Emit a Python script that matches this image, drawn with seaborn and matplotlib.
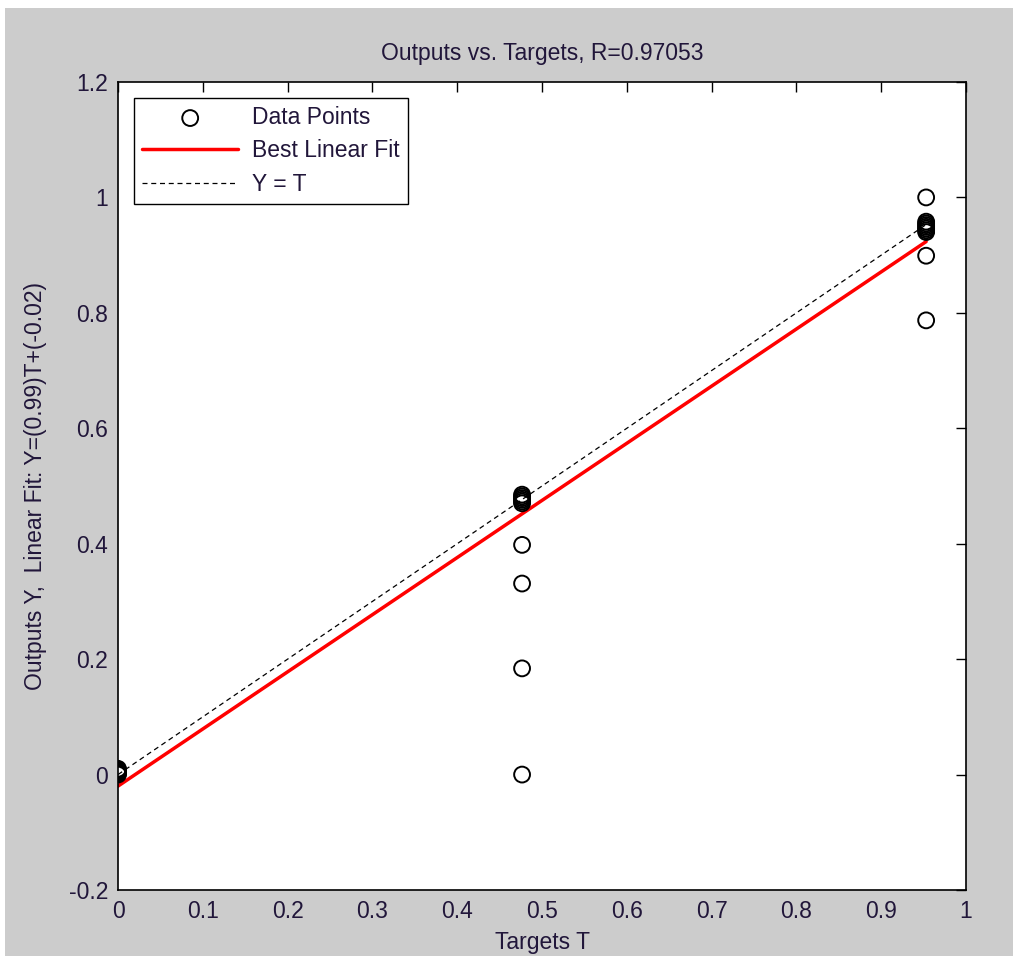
import numpy as np
import pandas as pd
import matplotlib
matplotlib.use("Agg")
import matplotlib.pyplot as plt
import seaborn as sns
from matplotlib.patches import Rectangle

# Network targets and the outputs produced for each of them
targets_0 = [0.0, 0.0, 0.0, 0.0, 0.0, 0.0]
outputs_0 = [0.000, 0.002, 0.004, 0.006, 0.008, 0.010]

targets_1 = [0.4765] * 10
outputs_1 = [0.000, 0.184, 0.331, 0.398, 0.470, 0.473, 0.476, 0.479, 0.482, 0.485]

targets_2 = [0.953] * 10
outputs_2 = [0.787, 0.899, 0.940, 0.943, 0.946, 0.949, 0.952, 0.955, 0.958, 1.000]

# Regression summary
fit_slope = 0.99
fit_intercept = -0.02
r_value = 0.97053

x_ticks = [0, 0.1, 0.2, 0.3, 0.4, 0.5, 0.6, 0.7, 0.8, 0.9, 1]
y_ticks = [-0.2, 0, 0.2, 0.4, 0.6, 0.8, 1, 1.2]

sns.set_style("white")
plt.rcParams["font.family"] = ["Liberation Sans", "DejaVu Sans"]
text_color = "#21163a"
fs = 16.5

df = pd.DataFrame({
    "T": targets_0 + targets_1 + targets_2,
    "Y": outputs_0 + outputs_1 + outputs_2,
})
t_min, t_max = df["T"].min(), df["T"].max()
line_df = pd.DataFrame({"T": [t_min, t_max]})
line_df["fit"] = fit_slope * line_df["T"] + fit_intercept
line_df["ident"] = line_df["T"]

fig = plt.figure(figsize=(10.13, 9.56), dpi=100, facecolor="#cccccc")
# white frame strips along the top and left edges
fig.patches.append(Rectangle((0, 1 - 8 / 956), 1, 8 / 956, transform=fig.transFigure,
                             facecolor="white", edgecolor="none", zorder=0))
fig.patches.append(Rectangle((0, 0), 5 / 1013, 1, transform=fig.transFigure,
                             facecolor="white", edgecolor="none", zorder=0))

ax = fig.add_axes([118 / 1013, 66 / 956, 848 / 1013, 808 / 956])
ax.set_facecolor("white")

sns.scatterplot(data=df, x="T", y="Y", ax=ax, marker="o", s=130,
                facecolors="none", edgecolor="black", linewidth=1.4,
                label="Data Points", zorder=3)
sns.lineplot(data=line_df, x="T", y="fit", ax=ax, color="red", linewidth=2.5,
             label="Best Linear Fit", zorder=2)
sns.lineplot(data=line_df, x="T", y="ident", ax=ax, color="black", linewidth=0.9,
             linestyle=(0, (4, 3)), label="Y = T", zorder=2)

ax.set_xlim(0, 1)
ax.set_ylim(-0.2, 1.2)
ax.set_xticks(x_ticks)
ax.set_yticks(y_ticks)
ax.set_xticklabels([f"{v:g}" for v in x_ticks])
ax.set_yticklabels([f"{v:g}" for v in y_ticks])
ax.tick_params(direction="in", length=7, width=1, top=True, right=True,
               labelsize=fs, labelcolor=text_color, color="black", pad=7)
for sp in ax.spines.values():
    sp.set_visible(True)
    sp.set_color("black")
    sp.set_linewidth(1.2)

ax.set_title(f"Outputs vs. Targets, R={r_value:.5f}", fontsize=fs,
             color=text_color, pad=16)
ax.set_xlabel("Targets T", fontsize=fs, color=text_color, labelpad=6)
ax.set_ylabel(f"Outputs Y,  Linear Fit: Y=({fit_slope:.2f})T+({fit_intercept:.2f})",
              fontsize=fs, color=text_color, labelpad=16)

leg = ax.legend(loc="upper left", fontsize=fs, frameon=True, fancybox=False,
                edgecolor="black", framealpha=1, borderpad=0.35,
                handlelength=4.2, handletextpad=0.6, labelspacing=0.45,
                borderaxespad=0.7)
leg.get_frame().set_linewidth(1.0)
for t in leg.get_texts():
    t.set_color(text_color)

fig.savefig("out.png", dpi=100, facecolor=fig.get_facecolor())
